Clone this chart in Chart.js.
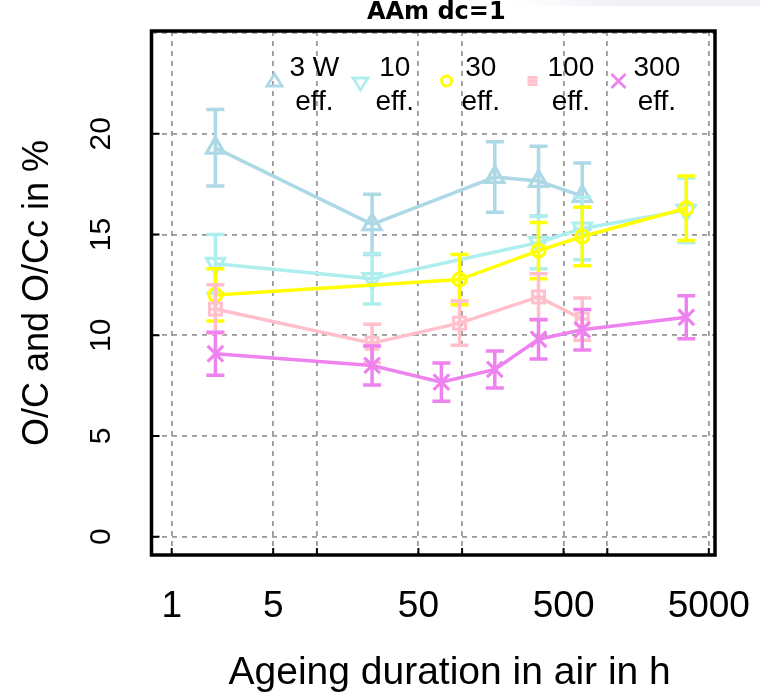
<!DOCTYPE html>
<html>
<head>
<meta charset="utf-8">
<script src="https://cdn.jsdelivr.net/npm/chart.js@4/dist/chart.umd.min.js"></script>
<style>
  html, body { margin: 0; padding: 0; background: #ffffff; }
  #wrap { position: relative; width: 760px; height: 695px; }
  #band { position: absolute; left: 510px; top: 0; width: 250px; height: 6px;
          background: linear-gradient(to right, rgba(242,239,246,0), rgba(242,239,246,1) 45%); }
  #c { position: absolute; left: 0; top: 0; }
</style>
</head>
<body>
<div id="wrap"><div id="band"></div><canvas id="c" width="760" height="695"></canvas></div>
<script>
// ---------------- data ----------------
const chartTitle = 'AAm dc=1';
const xAxisTitle = 'Ageing duration in air in h';
const yAxisTitle = 'O/C and O/Cc in %';

const xTickValues = [1, 5, 10, 50, 100, 500, 1000, 5000];
const xTickLabels = ['1', '5', '', '50', '', '500', '', '5000'];
const yTickValues = [0, 5, 10, 15, 20, 25];
const yTickLabels = ['0', '5', '10', '15', '20', ''];

const seriesNames = [['3 W', 'eff.'], ['10', 'eff.'], ['30', 'eff.'], ['100', 'eff.'], ['300', 'eff.']];
const seriesColors = ['#ADD8E6', '#AFEEEE', '#FFFF00', '#FFC0CB', '#EE82EE'];

const hours3W = [2, 24, 168, 336, 672];
const oc3W    = [19.3, 15.5, 17.85, 17.65, 16.9];
const err3W   = [1.9, 1.5, 1.75, 1.73, 1.65];

const hours10 = [2, 24, 336, 672, 3500];
const oc10    = [13.55, 12.8, 14.6, 15.3, 16.2];
const err10   = [1.45, 1.25, 1.3, 1.55, 1.6];

const hours30 = [2, 96, 336, 672, 3500];
const oc30    = [12.0, 12.76, 14.2, 14.9, 16.3];
const err30   = [1.3, 1.25, 1.4, 1.45, 1.6];

const hours100 = [2, 24, 96, 336, 672];
const oc100    = [11.3, 9.6, 10.6, 11.9, 10.8];
const err100   = [1.2, 0.95, 1.1, 1.15, 1.05];

const hours300 = [2, 24, 72, 168, 336, 672, 3500];
const oc300    = [9.08, 8.5, 7.67, 8.3, 9.8, 10.27, 10.89];
const err300   = [1.07, 0.97, 0.95, 0.92, 0.98, 1.0, 1.07];

// ---------------- styling ----------------
const FONT = '"Liberation Sans", Arial, Helvetica, sans-serif';
const TITLE_FONT = '"DejaVu Sans", "Liberation Sans", sans-serif';

function squarePlus(size, color, lw) {
  const c = document.createElement('canvas');
  c.width = size; c.height = size;
  const g = c.getContext('2d');
  g.strokeStyle = color; g.lineWidth = lw;
  const m = lw / 2 + 1;
  g.strokeRect(m, m, size - 2 * m, size - 2 * m);
  g.beginPath();
  g.moveTo(size / 2, m); g.lineTo(size / 2, size - m);
  g.moveTo(m, size / 2); g.lineTo(size - m, size / 2);
  g.stroke();
  return c;
}
const sqPlusBig = squarePlus(17, seriesColors[3], 3);
const sqPlusSmall = squarePlus(12, seriesColors[3], 2.5);

function pts(xs, ys) { return xs.map((x, i) => ({ x: x, y: ys[i] })); }

const allSeries = [
  { x: hours3W, y: oc3W, e: err3W, style: 'triangle', rot: 0, r: 10.5 },
  { x: hours10, y: oc10, e: err10, style: 'triangle', rot: 180, r: 10.5 },
  { x: hours30, y: oc30, e: err30, style: 'circle', rot: 0, r: 6.5 },
  { x: hours100, y: oc100, e: err100, style: sqPlusBig, rot: 0, r: 8 },
  { x: hours300, y: oc300, e: err300, style: 'crossRot', rot: 0, r: 11 }
];

const datasets = allSeries.map((s, i) => ({
  label: seriesNames[i].join(' '),
  data: pts(s.x, s.y),
  borderColor: seriesColors[i],
  backgroundColor: 'rgba(0,0,0,0)',
  borderWidth: 3.5,
  pointStyle: s.style,
  pointRotation: s.rot,
  pointRadius: s.r,
  pointHoverRadius: s.r,
  pointBorderWidth: 3.2,
  pointBorderColor: seriesColors[i],
  pointBackgroundColor: 'rgba(0,0,0,0)',
  tension: 0,
  fill: false,
  order: 10 - i,
  clip: false
}));

// error bars, drawn through the scales
const errorBars = {
  id: 'errorBars',
  afterDatasetDraw(chart, args) {
    const i = args.index;
    const s = allSeries[i];
    const xs = chart.scales.x, ys = chart.scales.y;
    const ctx = chart.ctx;
    ctx.save();
    ctx.strokeStyle = seriesColors[i];
    ctx.lineWidth = 3.5;
    ctx.lineCap = 'butt';
    const cap = 9;
    for (let k = 0; k < s.x.length; k++) {
      const px = xs.getPixelForValue(s.x[k]);
      const yt = ys.getPixelForValue(s.y[k] + s.e[k]);
      const yb = ys.getPixelForValue(s.y[k] - s.e[k]);
      ctx.beginPath();
      ctx.moveTo(px, yt); ctx.lineTo(px, yb);
      ctx.moveTo(px - cap, yt); ctx.lineTo(px + cap, yt);
      ctx.moveTo(px - cap, yb); ctx.lineTo(px + cap, yb);
      ctx.stroke();
    }
    ctx.restore();
  }
};

// frame, inward ticks, titles, legend
const frame = {
  id: 'frame',
  afterDraw(chart) {
    const ctx = chart.ctx;
    const a = chart.chartArea;
    const xs = chart.scales.x, ys = chart.scales.y;
    ctx.save();
    // inward ticks
    ctx.strokeStyle = '#000';
    ctx.lineWidth = 2;
    ctx.beginPath();
    xTickValues.forEach(v => {
      const p = xs.getPixelForValue(v);
      ctx.moveTo(p, a.bottom); ctx.lineTo(p, a.bottom - 7);
    });
    yTickValues.forEach((v, i) => {
      if (yTickLabels[i] === '') return;
      const p = ys.getPixelForValue(v);
      ctx.moveTo(a.left, p); ctx.lineTo(a.left + 8, p);
    });
    ctx.stroke();
    // box
    ctx.lineWidth = 3.5;
    ctx.strokeRect(a.left, a.top, a.right - a.left, a.bottom - a.top);

    // chart title
    ctx.fillStyle = '#000';
    ctx.textAlign = 'center';
    ctx.textBaseline = 'middle';
    ctx.font = 'bold 24px ' + TITLE_FONT;
    ctx.fillText(chartTitle, (a.left + a.right) / 2 + 3, 13);

    // x axis title
    ctx.font = '39px ' + FONT;
    ctx.textAlign = 'left';
    ctx.fillText(xAxisTitle, a.left + 77, 673);

    // legend
    const my = 81;
    ctx.font = '28px ' + FONT;
    ctx.textBaseline = 'middle';
    ctx.textAlign = 'center';
    for (let i = 0; i < seriesNames.length; i++) {
      const mx = a.left + 123 + i * 86;
      const col = seriesColors[i];
      ctx.strokeStyle = col;
      ctx.lineWidth = 2.8;
      ctx.beginPath();
      if (i === 0) {
        ctx.moveTo(mx, my - 7); ctx.lineTo(mx + 7.5, my + 5); ctx.lineTo(mx - 7.5, my + 5); ctx.closePath();
        ctx.stroke();
      } else if (i === 1) {
        ctx.moveTo(mx, my + 9); ctx.lineTo(mx + 7.5, my - 3); ctx.lineTo(mx - 7.5, my - 3); ctx.closePath();
        ctx.stroke();
      } else if (i === 2) {
        ctx.arc(mx, my, 5, 0, Math.PI * 2);
        ctx.stroke();
      } else if (i === 3) {
        ctx.drawImage(sqPlusSmall, mx - 6, my - 6, 12, 12);
      } else {
        ctx.moveTo(mx - 7, my - 7); ctx.lineTo(mx + 7, my + 7);
        ctx.moveTo(mx + 7, my - 7); ctx.lineTo(mx - 7, my + 7);
        ctx.stroke();
      }
      ctx.fillStyle = '#000';
      const lines = seriesNames[i];
      const w = Math.max(...lines.map(t => ctx.measureText(t).width));
      const cx = mx + 15 + w / 2;
      ctx.fillText(lines[0], cx, 68);
      ctx.fillText(lines[1], cx, 102);
    }
    ctx.restore();
  }
};

function noPad(s) {
  s.paddingTop = 0; s.paddingBottom = 0; s.paddingLeft = 0; s.paddingRight = 0;
}

new Chart(document.getElementById('c'), {
  type: 'line',
  data: { datasets: datasets },
  plugins: [errorBars, frame],
  options: {
    responsive: false,
    animation: false,
    layout: { padding: { left: 0, right: 45, top: 31, bottom: 0 } },
    plugins: {
      legend: { display: false },
      tooltip: { enabled: false },
      title: { display: false }
    },
    scales: {
      x: {
        type: 'logarithmic',
        min: 0.726,
        max: 5517,
        bounds: 'data',
        afterBuildTicks(s) { s.ticks = xTickValues.map(v => ({ value: v })); },
        afterFit(s) { s.height = 140; noPad(s); },
        grid: { color: '#9a9a9a', lineWidth: 1.8, drawTicks: false },
        border: { display: false, dash: [5, 5] },
        ticks: {
          autoSkip: false,
          maxRotation: 0,
          minRotation: 0,
          padding: 30,
          color: '#000',
          font: { family: FONT, size: 37 },
          callback(v) {
            const idx = xTickValues.indexOf(v);
            return idx >= 0 ? xTickLabels[idx] : '';
          }
        },
        title: { display: false }
      },
      y: {
        type: 'linear',
        min: -0.91,
        max: 25.1,
        afterBuildTicks(s) { s.ticks = yTickValues.map(v => ({ value: v })); },
        afterFit(s) { s.width = 151.5; noPad(s); },
        grid: { color: '#9a9a9a', lineWidth: 1.8, drawTicks: false },
        border: { display: false, dash: [5, 5] },
        ticks: {
          autoSkip: false,
          minRotation: 90,
          maxRotation: 90,
          crossAlign: 'center',
          padding: 33,
          color: '#000',
          font: { family: FONT, size: 30 },
          callback(v) {
            const idx = yTickValues.indexOf(v);
            return idx >= 0 ? yTickLabels[idx] : '';
          }
        },
        title: {
          display: true,
          text: yAxisTitle,
          color: '#000',
          font: { family: FONT, size: 36 },
          padding: { top: 16, bottom: 0 }
        }
      }
    }
  }
});
</script>
</body>
</html>
